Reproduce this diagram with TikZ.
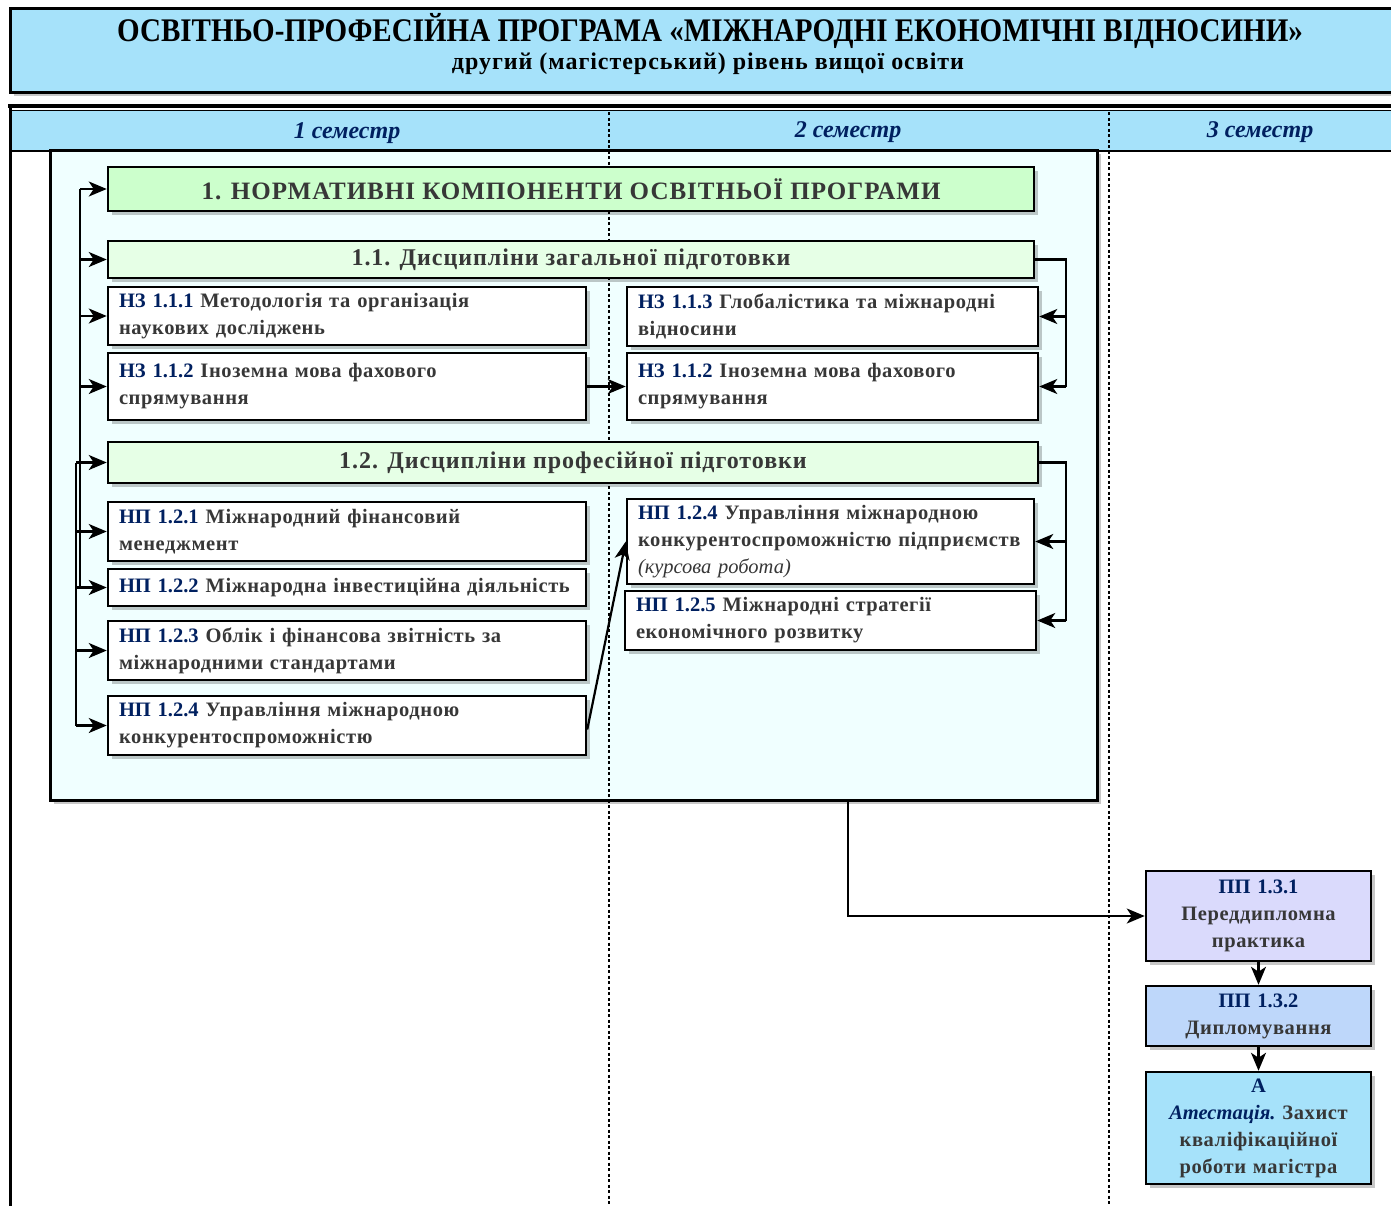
\documentclass[tikz,border=0pt]{standalone}
\usepackage{fontspec}
\setmainfont{Liberation Serif}
\newfontfamily\spacedf[LetterSpace=3]{Liberation Serif}
\newfontfamily\spacedh[LetterSpace=4]{Liberation Serif}
\usetikzlibrary{arrows.meta,shadows,calc}
\definecolor{hdrblue}{RGB}{166,226,250}
\definecolor{mainfill}{RGB}{240,255,255}
\definecolor{greenA}{RGB}{204,255,204}
\definecolor{greenB}{RGB}{230,255,230}
\definecolor{lavend}{RGB}{218,218,252}
\definecolor{blueB}{RGB}{190,215,250}
\definecolor{navy}{RGB}{0,32,96}
\definecolor{txtgray}{RGB}{55,55,55}
\newcommand{\kod}[1]{\textcolor{navy}{\normalfont\bfseries #1}}
\newcommand{\bodyf}{\spacedf\fontsize{20.5}{27}\selectfont\bfseries\frenchspacing}
\begin{document}
\begin{tikzpicture}[x=1pt,y=-1pt,
  shd/.style={drop shadow={shadow xshift=4pt,shadow yshift=-4pt,fill=black,opacity=0.22}},
  lbox/.style={draw,line width=2.5pt,fill=white,inner xsep=11pt,inner ysep=0pt,align=left,font=\bodyf,text=txtgray,shd},
  hbox/.style={draw,line width=2.5pt,inner sep=0pt,align=center,text=txtgray,shd},
  cbox/.style={draw,line width=2.5pt,inner sep=0pt,align=center,font=\bodyf,text=txtgray,shd,minimum width=225pt,text width=215pt},
  sem/.style={font=\fontsize{24}{26}\selectfont\bfseries\itshape,text=navy},
  conn/.style={line width=2.2pt},
  arr/.style={line width=2.2pt,-{Stealth[length=18pt,width=15pt,inset=5pt]}},
  dotl/.style={line width=2pt,dash pattern=on 3pt off 2.5pt}
]
\useasboundingbox (0,0) rectangle (1391,1205);
% title
\node[draw,line width=3pt,fill=hdrblue,minimum width=1400pt,minimum height=84pt,inner sep=0pt,shd] (titlebox) at (710,50) {};
\node[font=\fontsize{33}{36}\selectfont\bfseries] (title) at (710,31) {\scalebox{0.88}[1]{ОСВІТНЬО-ПРОФЕСІЙНА ПРОГРАМА «МІЖНАРОДНІ ЕКОНОМІЧНІ ВІДНОСИНИ»}};
\node[font=\spacedh\fontsize{24}{28}\selectfont\bfseries] (subtitle) at (708,64) {другий (магістерський) рівень вищої освіти};
% table header
\fill[hdrblue] (10,110) rectangle (1400,151);
\draw[line width=2pt] (10,151) -- (1400,151);
\draw[line width=3.5pt] (8,106) -- (1400,106);
\draw[line width=1.2pt] (10,110.5) -- (1400,110.5);
\draw[line width=3pt] (10,104) -- (10,1210);
\node[sem] (s1) at (347,133) {1 семестр};
\node[sem] (s2) at (848,132) {2 семестр};
\node[sem] (s3) at (1260,132) {3 семестр};
% main box
\node[draw,line width=3pt,fill=mainfill,minimum width=1047pt,minimum height=650pt,inner sep=0pt,shd] (main) at (573.5,475) {};
% dividers
\draw[dotl] (609,112) -- (609,1210);
\draw[dotl] (1109,112) -- (1109,1210);
% headers
\node[hbox,fill=greenA,minimum width=926pt,minimum height=44pt,font=\spacedh\fontsize{25}{28}\selectfont\bfseries] (h1) at (571,189) {1. НОРМАТИВНІ КОМПОНЕНТИ ОСВІТНЬОЇ ПРОГРАМИ};
\node[hbox,fill=greenB,minimum width=926pt,minimum height=37pt,font=\spacedh\fontsize{24}{26}\selectfont\bfseries] (h11) at (571,259.5) {1.1. Дисципліни загальної підготовки};
\node[hbox,fill=greenB,minimum width=930pt,minimum height=41pt,font=\spacedh\fontsize{24}{26}\selectfont\bfseries] (h12) at (573,462.5) {1.2. Дисципліни професійної підготовки};
% left column
\node[lbox,minimum width=478pt,minimum height=58pt,text width=456pt] (nz111) at (347,316) {\kod{НЗ 1.1.1} Методологія та організація\\наукових досліджень};
\node[lbox,minimum width=478pt,minimum height=67pt,text width=456pt] (nz112a) at (347,386.5) {\kod{НЗ 1.1.2} Іноземна мова фахового\\спрямування};
\node[lbox,minimum width=478pt,minimum height=59pt,text width=456pt] (np121) at (347,531.5) {\kod{НП 1.2.1} Міжнародний фінансовий\\менеджмент};
\node[lbox,minimum width=478pt,minimum height=37pt,text width=456pt] (np122) at (347,587.5) {\kod{НП 1.2.2} Міжнародна інвестиційна діяльність};
\node[lbox,minimum width=478pt,minimum height=59pt,text width=456pt] (np123) at (347,650.5) {\kod{НП 1.2.3} Облік і фінансова звітність за\\міжнародними стандартами};
\node[lbox,minimum width=478pt,minimum height=59pt,text width=456pt] (np124a) at (347,725.5) {\kod{НП 1.2.4} Управління міжнародною\\конкурентоспроможністю};
% right column
\node[lbox,minimum width=411pt,minimum height=59pt,text width=389pt] (nz113) at (832.5,316.5) {\kod{НЗ 1.1.3} Глобалістика та міжнародні\\відносини};
\node[lbox,minimum width=411pt,minimum height=67pt,text width=389pt] (nz112b) at (832.5,386.5) {\kod{НЗ 1.1.2} Іноземна мова фахового\\спрямування};
\node[lbox,minimum width=407pt,minimum height=85pt,text width=385pt] (np124b) at (830.5,541.5) {\kod{НП 1.2.4} Управління міжнародною\\конкурентоспроможністю підприємств\\{\normalfont\itshape (курсова робота)}};
\node[lbox,minimum width=411pt,minimum height=59pt,text width=389pt] (np125) at (830.5,620.5) {\kod{НП 1.2.5} Міжнародні стратегії\\економічного розвитку};
% semester 3
\node[cbox,fill=lavend,minimum height=90pt] (pp131) at (1258.5,916) {\kod{ПП 1.3.1}\\Переддипломна\\практика};
\node[cbox,fill=blueB,minimum height=60pt] (pp132) at (1258.5,1016) {\kod{ПП 1.3.2}\\Дипломування};
\node[cbox,fill=hdrblue,minimum height=112pt] (att) at (1258.5,1128) {\kod{А}\\\kod{\itshape Атестація.} Захист\\кваліфікаційної\\роботи магістра};
% left buses
\coordinate (bA) at (80,0);
\coordinate (bB) at (76,0);
\draw[conn] (h1.west -| bA) -- (np122.west -| bA);
\draw[conn] (h12.west -| bB) -- (np124a.west -| bB);
\foreach \n in {h1,h11,nz111,nz112a}{\draw[arr] (\n.west -| bA) -- (\n.west);}
\foreach \n in {h12,np121,np122,np123,np124a}{\draw[arr] (\n.west -| bB) -- (\n.west);}
% right buses
\coordinate (rA) at (1066,0);
\draw[conn] (h11.east) -- (h11.east -| rA) -- (nz112b.east -| rA);
\draw[arr] (nz113.east -| rA) -- (nz113.east);
\draw[arr] (nz112b.east -| rA) -- (nz112b.east);
\draw[conn] (h12.east) -- (h12.east -| rA) -- (np125.east -| rA);
\draw[arr] (np124b.east -| rA) -- (np124b.east);
\draw[arr] (np125.east -| rA) -- (np125.east);
% cross arrows
\draw[arr] (nz112a.east) -- (nz112b.west);
\draw[arr] ([yshift=-4pt]np124a.east) -- (np124b.west);
\draw[arr] ([xshift=274.5pt]main.south) |- (pp131.west);
\draw[arr] (pp131.south) -- (pp132.north);
\draw[arr] (pp132.south) -- (att.north);
\end{tikzpicture}
\end{document}
